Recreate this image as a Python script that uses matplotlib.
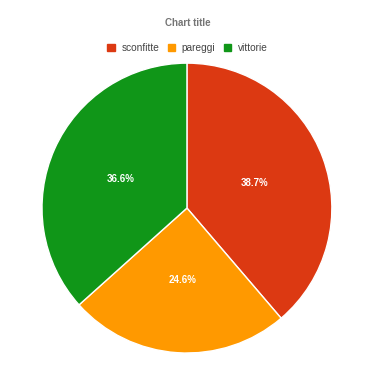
import matplotlib
matplotlib.use('Agg')
import matplotlib.pyplot as plt
from matplotlib.patches import Patch

plt.rcParams['font.family'] = ['Liberation Sans', 'DejaVu Sans']

# Dati
etichette = ['sconfitte', 'pareggi', 'vittorie']
valori = [38.7, 24.6, 36.6]
colori = ['#DC3912', '#FF9900', '#109618']

fig = plt.figure(figsize=(3.75, 3.66), dpi=100)
ax = fig.add_axes([0.112, 0.0355, 0.773, 0.792])

wedges, texts, autotexts = ax.pie(valori, colors=colori, startangle=90, counterclock=False,
                                  autopct='%1.1f%%', pctdistance=0.5,
                                  wedgeprops=dict(edgecolor='white', linewidth=1))
for t in autotexts:
    t.set_color('white')
    t.set_fontsize(7)
    t.set_fontweight('bold')
ax.set_xlim(-1, 1)
ax.set_ylim(-1, 1)
ax.set_aspect('equal')
ax.axis('off')

fig.text(0.5, 1 - 23/366, 'Chart title', ha='center', va='center',
         fontsize=7, fontweight='bold', color='#757575')

handles = [Patch(facecolor=c, edgecolor=c) for c in colori]
fig.legend(handles, etichette, loc='center', bbox_to_anchor=(0.5, 1 - 48/366), ncol=3,
           frameon=False, fontsize=7.3, handlelength=0.7, handleheight=0.7,
           handletextpad=0.7, columnspacing=0.8, labelcolor='#444444')

fig.savefig('out.png', dpi=100)
